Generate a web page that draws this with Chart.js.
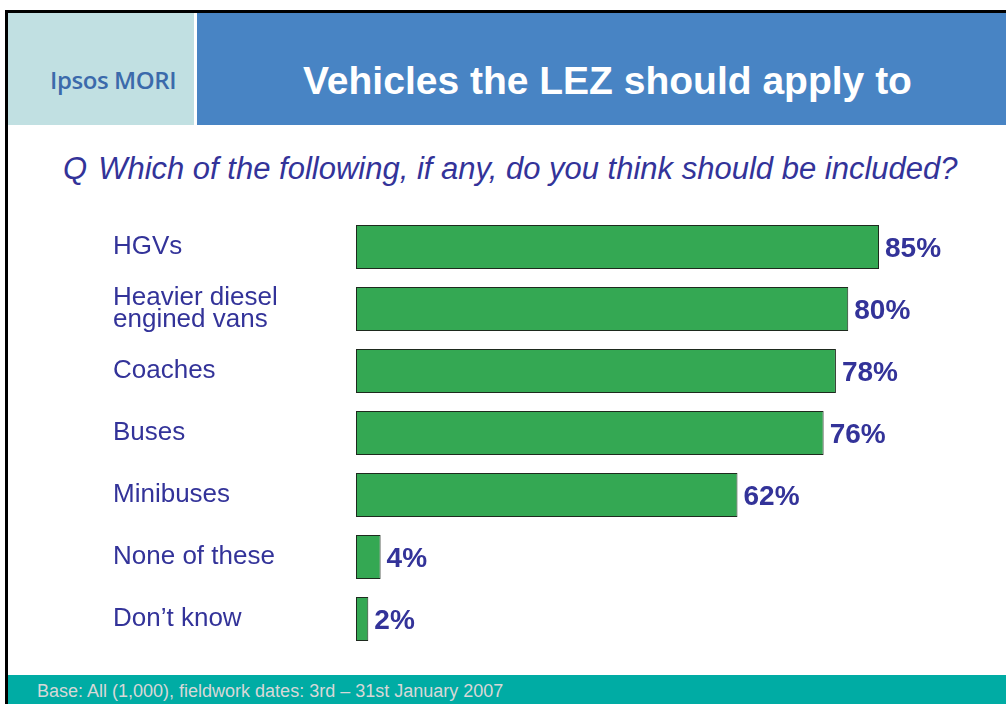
<!DOCTYPE html>
<html>
<head>
<meta charset="utf-8">
<script src="https://cdn.jsdelivr.net/npm/chart.js@4"></script>
<style>
  body { margin: 0; background: #fff; }
  #slide { position: relative; width: 1006px; height: 704px; overflow: hidden; background: #fff; font-family: Arial, "Liberation Sans", sans-serif; }
  .edge-top { position: absolute; left: 5px; top: 10px; width: 1001px; height: 3px; background: #000; }
  .edge-left { position: absolute; left: 5px; top: 10px; width: 3px; height: 694px; background: #000; }
  .logo-box { position: absolute; left: 8px; top: 13px; width: 186px; height: 112px; background: #c1e0e2; }
  .logo-box span { position: absolute; left: 42px; top: 66px; transform: translateY(-50%); font-family: "Open Sans", sans-serif; font-weight: 600; font-size: 24px; color: #3b6aab; letter-spacing: -0.4px; white-space: nowrap; }
  .title-box { position: absolute; left: 197px; top: 13px; width: 809px; height: 112px; background: #4884c4; }
  .title-box span { position: absolute; left: 106px; top: 68px; transform: translateY(-50%); font-weight: bold; font-size: 39px; color: #fff; white-space: nowrap; }
  .question { position: absolute; left: 63px; top: 169px; transform: translateY(-50%); font-style: italic; font-size: 31px; color: #333399; white-space: nowrap; }
  .question b { font-weight: normal; margin-right: 11px; }
  .footer { position: absolute; left: 8px; top: 675px; width: 998px; height: 29px; background: #00aca4; }
  .footer span { position: absolute; left: 29px; top: 16px; transform: translateY(-50%); font-size: 18px; color: #d8d8d8; white-space: nowrap; }
  canvas { position: absolute; left: 0; top: 0; }
</style>
</head>
<body>
<div id="slide">
  <div class="logo-box"><span>Ipsos MORI</span></div>
  <div class="title-box"><span>Vehicles the LEZ should apply to</span></div>
  <div class="edge-top"></div>
  <div class="edge-left"></div>
  <div class="question"><b>Q</b>Which of the following, if any, do you think should be included?</div>
  <div class="footer"><span>Base: All (1,000), fieldwork dates: 3rd – 31st January 2007</span></div>
  <canvas id="lezChart" width="1006" height="704"></canvas>
</div>
<script>
// ========== categories and shares (%) ==========
const vehicleTypes = [
  'HGVs',
  ['Heavier diesel', 'engined vans'],
  'Coaches',
  'Buses',
  'Minibuses',
  'None of these',
  'Don\u2019t know'
];
const sharePct = [85, 80, 78, 76, 62, 4, 2];

// value labels next to each bar
const barValueLabels = {
  id: 'barValueLabels',
  afterDatasetsDraw(chart) {
    const ctx = chart.ctx;
    const meta = chart.getDatasetMeta(0);
    ctx.save();
    ctx.font = 'bold 28px Arial, "Liberation Sans", sans-serif';
    ctx.fillStyle = '#333399';
    ctx.textAlign = 'left';
    ctx.textBaseline = 'middle';
    meta.data.forEach((bar, i) => {
      ctx.fillText(sharePct[i] + '%', bar.x + 6, bar.y + 2);
    });
    ctx.restore();
  }
};

const lezChart = new Chart(document.getElementById('lezChart'), {
  type: 'bar',
  data: {
    labels: vehicleTypes,
    datasets: [{
      data: sharePct,
      backgroundColor: '#34a853',
      borderColor: '#1e2a1e',
      borderWidth: 1,
      borderSkipped: false,
      categoryPercentage: 1,
      barPercentage: 44 / 62
    }]
  },
  options: {
    indexAxis: 'y',
    responsive: false,
    animation: false,
    events: [],
    layout: {
      padding: { left: 113, top: 216, bottom: 54, right: 34.7 }
    },
    plugins: {
      legend: { display: false },
      tooltip: { enabled: false }
    },
    scales: {
      x: {
        display: false,
        min: 0,
        max: 100
      },
      y: {
        grid: { display: false, drawTicks: false },
        border: { display: false },
        afterFit(scale) { scale.width = 243; },
        ticks: {
          crossAlign: 'far',
          padding: 0,
          color: '#333399',
          font: { family: 'Arial, "Liberation Sans", sans-serif', size: 26, lineHeight: 0.86 }
        }
      }
    }
  },
  plugins: [barValueLabels]
});
</script>
</body>
</html>
